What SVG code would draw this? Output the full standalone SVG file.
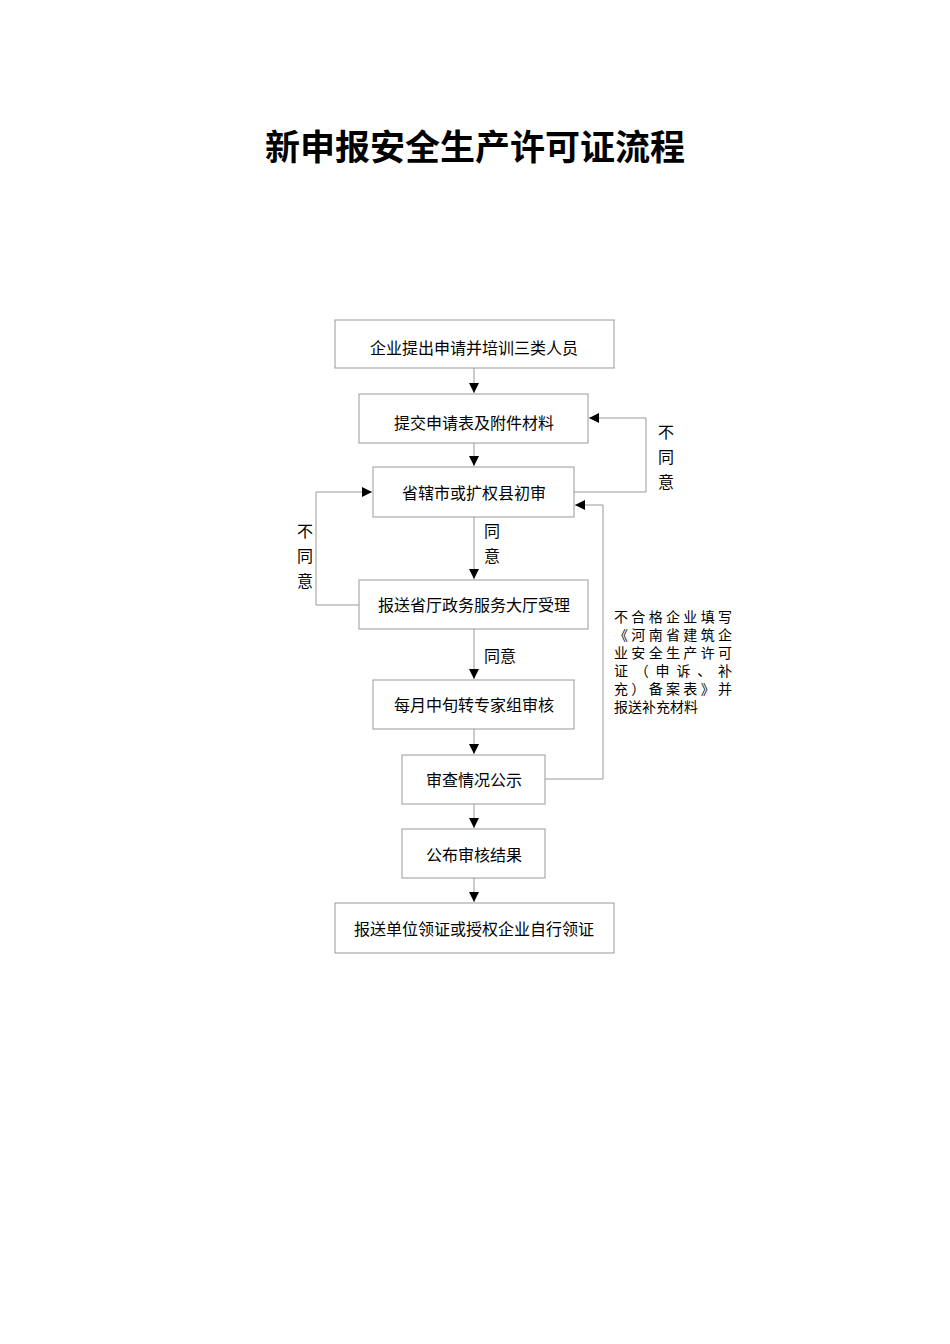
<svg xmlns="http://www.w3.org/2000/svg" width="950" height="1344" viewBox="0 0 950 1344">
<style>
text{font-family:"Liberation Serif","Noto Sans CJK SC",serif;fill:#000}
.box{fill:#fff;stroke:#999;stroke-width:1}
.t{font-size:16px;text-anchor:middle}
.l{font-size:16px}
.c{fill:none;stroke:#999;stroke-width:1}
.title{font-size:35px;font-weight:bold;text-anchor:middle}
</style>
<defs><marker id="a" markerWidth="10" markerHeight="10" refX="10" refY="5" orient="auto" markerUnits="userSpaceOnUse"><path d="M0,0 L10,5 L0,10 Z" fill="#000"/></marker></defs>
<rect width="950" height="1344" fill="#fff"/>
<text class="title" x="475" y="160">新申报安全生产许可证流程</text>
<g id="connectors">
<path class="c" d="M474,368 V393" marker-end="url(#a)"/>
<path class="c" d="M474,443 V466" marker-end="url(#a)"/>
<path class="c" d="M474,517 V579" marker-end="url(#a)"/>
<path class="c" d="M474,629 V679" marker-end="url(#a)"/>
<path class="c" d="M474,729 V754" marker-end="url(#a)"/>
<path class="c" d="M474,804 V828" marker-end="url(#a)"/>
<path class="c" d="M474,878 V902" marker-end="url(#a)"/>
<path class="c" d="M574,492 H646 V418 H589" marker-end="url(#a)"/>
<path class="c" d="M359,605 H316 V492 H372" marker-end="url(#a)"/>
<path class="c" d="M545,779 H603 V505 H575" marker-end="url(#a)"/>
<text class="l" x="658" y="438">不</text>
<text class="l" x="658" y="463">同</text>
<text class="l" x="658" y="488">意</text>
<text class="l" x="297" y="537">不</text>
<text class="l" x="297" y="562">同</text>
<text class="l" x="297" y="587">意</text>
<text class="l" x="484" y="537">同</text>
<text class="l" x="484" y="562">意</text>
<text class="l" x="484" y="662">同意</text>
<g font-size="14">
<text x="614" y="622" textLength="118" lengthAdjust="spacing">不合格企业填写</text>
<text x="614" y="640" textLength="118" lengthAdjust="spacing">《河南省建筑企</text>
<text x="614" y="658" textLength="118" lengthAdjust="spacing">业安全生产许可</text>
<text x="614" y="676" textLength="118" lengthAdjust="spacing">证（申诉、补</text>
<text x="614" y="694" textLength="118" lengthAdjust="spacing">充）备案表》并</text>
<text x="614" y="712">报送补充材料</text>
</g>
</g>
<g id="n1"><rect class="box" x="335" y="320" width="279" height="48"/><text class="t" x="474" y="354">企业提出申请并培训三类人员</text></g>
<g id="n2"><rect class="box" x="359" y="394" width="229" height="49"/><text class="t" x="474" y="429">提交申请表及附件材料</text></g>
<g id="n3"><rect class="box" x="373" y="467" width="201" height="50"/><text class="t" x="474" y="499">省辖市或扩权县初审</text></g>
<g id="n4"><rect class="box" x="359" y="580" width="229" height="49"/><text class="t" x="474" y="611">报送省厅政务服务大厅受理</text></g>
<g id="n5"><rect class="box" x="373" y="680" width="201" height="49"/><text class="t" x="474" y="711">每月中旬转专家组审核</text></g>
<g id="n6"><rect class="box" x="402" y="755" width="143" height="49"/><text class="t" x="474" y="786">审查情况公示</text></g>
<g id="n7"><rect class="box" x="402" y="829" width="143" height="49"/><text class="t" x="474" y="861">公布审核结果</text></g>
<g id="n8"><rect class="box" x="335" y="903" width="279" height="50"/><text class="t" x="474" y="935">报送单位领证或授权企业自行领证</text></g>
</svg>
